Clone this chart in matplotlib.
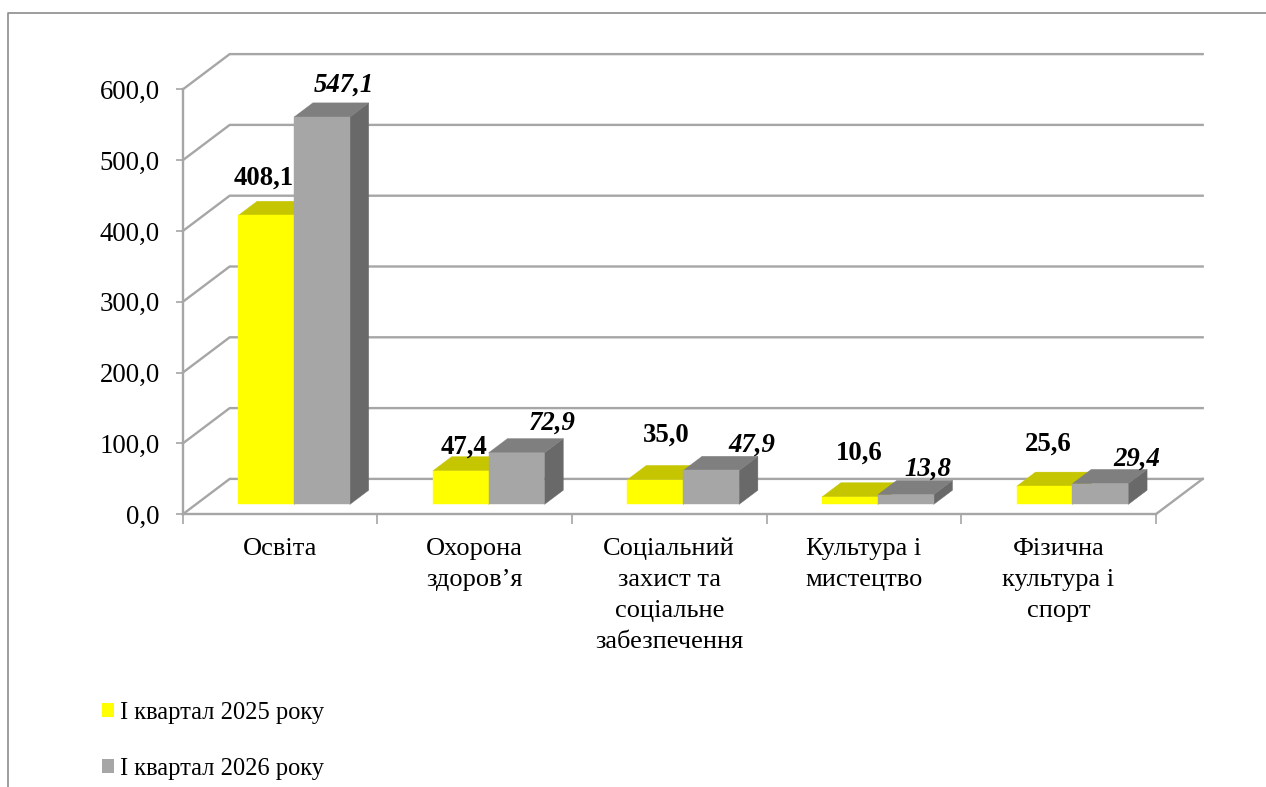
import matplotlib
matplotlib.use("Agg")
import matplotlib.pyplot as plt
from matplotlib.lines import Line2D
from matplotlib.patches import Patch, Polygon
from matplotlib.ticker import FuncFormatter

categories = ["Освіта", "Охорона\nздоров’я", "Соціальний\nзахист та\nсоціальне\nзабезпечення",
              "Культура і\nмистецтво", "Фізична\nкультура і\nспорт"]
series_names = ["І квартал 2025 року", "І квартал 2026 року"]
values_2025 = [408.1, 47.4, 35.0, 10.6, 25.6]
values_2026 = [547.1, 72.9, 47.9, 13.8, 29.4]
y_ticks = [0, 100, 200, 300, 400, 500, 600]

W, H = 1266, 787
plt.rcParams["font.family"] = ["Liberation Serif"]

fig = plt.figure(figsize=(W / 100, H / 100), dpi=100)
# the axes is the front plane of the old excel 3d box
ax = fig.add_axes([182.7 / W, 1 - 514.3 / H, 973 / W, 424.8 / H])
ax.set_xlim(0, 5)
ax.set_ylim(0, 600)
ax.patch.set_alpha(0)

# one unit of depth in data units
DX, DY = 0.2415, 50
grid = "#a6a6a6"
bar_w = 0.2867
bar_x0 = 0.2857
front, back = 0.28, 0.68


def shift(x, y, d):
    return x + DX * d, y + DY * d


for v in y_ticks:
    x1, y1 = shift(0, v, 1)
    x2, y2 = shift(5, v, 1)
    ax.plot([0, x1, x2], [v, y1, y2], color=grid, lw=1.7, clip_on=False, zorder=1)
x1, y1 = shift(5, 0, 1)
ax.plot([5, x1], [0, y1], color=grid, lw=1.7, clip_on=False, zorder=1)


def draw_bar(x, v, face, top, side):
    y0 = DY * front
    xf = x
    xb = x + DX * (back - front)
    yt = y0 + v
    yb = yt + DY * (back - front)
    y0b = y0 + DY * (back - front)
    ax.add_patch(Polygon([(xf + bar_w, y0), (xb + bar_w, y0b), (xb + bar_w, yb), (xf + bar_w, yt)],
                         fc=side, ec=side, lw=0.3, clip_on=False, zorder=3))
    ax.add_patch(Polygon([(xf, yt), (xb, yb), (xb + bar_w, yb), (xf + bar_w, yt)],
                         fc=top, ec=top, lw=0.3, clip_on=False, zorder=3))
    ax.add_patch(Polygon([(xf, y0), (xf + bar_w, y0), (xf + bar_w, yt), (xf, yt)],
                         fc=face, ec=face, lw=0.3, clip_on=False, zorder=3))


for i in range(len(categories)):
    draw_bar(i + bar_x0, values_2025[i], "#ffff00", "#c6c600", "#a0a000")
    draw_bar(i + bar_x0 + bar_w, values_2026[i], "#a6a6a6", "#7f7f7f", "#696969")

# labels were dragged by hand in the original, so each has its own nudge in pixels
nudge_2025 = [(-3, 37), (3, 24), (11, 44), (9, 44), (4, 42)]
nudge_2026 = [(22, 32), (36, 30), (41, 25), (22, 25), (36, 24)]
for i in range(len(categories)):
    ax.annotate(f"{values_2025[i]:.1f}".replace(".", ","),
                (i + bar_x0 + bar_w / 2, values_2025[i] + DY * front), xytext=nudge_2025[i],
                textcoords="offset pixels", ha="center", va="center", fontsize=19.3,
                fontweight="bold", annotation_clip=False, zorder=5)
    ax.annotate(f"{values_2026[i]:.1f}".replace(".", ","),
                (i + bar_x0 + bar_w * 1.5, values_2026[i] + DY * front), xytext=nudge_2026[i],
                textcoords="offset pixels", ha="center", va="center", fontsize=19.3,
                fontweight="bold", fontstyle="italic", annotation_clip=False, zorder=5)

for s in ["top", "right"]:
    ax.spines[s].set_visible(False)
for s in ["left", "bottom"]:
    ax.spines[s].set_color(grid)
    ax.spines[s].set_linewidth(1.7)

ax.set_yticks(y_ticks)
ax.yaxis.set_major_formatter(FuncFormatter(lambda v, p: f"{v:.1f}".replace(".", ",")))
ax.tick_params(axis="y", color=grid, width=1.2, length=5, labelsize=19.3, pad=11.5)
ax.set_xticks(range(6))
ax.set_xticklabels([])
ax.tick_params(axis="x", which="major", color=grid, width=1.2, length=7)
ax.set_xticks([i + 0.5 for i in range(5)], minor=True)
ax.set_xticklabels(categories, minor=True, fontsize=19, linespacing=1.52)
ax.tick_params(axis="x", which="minor", length=0, pad=17)

# outer chart frame, cut by the image on the right and bottom
fig.add_artist(Line2D([8.3 / W, 8.3 / W, 1], [0, 1 - 12.7 / H, 1 - 12.7 / H], color="#8c8c8c", lw=1.2))

handles = [Patch(fc="#ffff00"), Patch(fc="#a6a6a6")]
fig.legend(handles, series_names, loc="lower left", bbox_to_anchor=(80 / W, -15 / H), frameon=False,
           fontsize=17.65, handlelength=0.5, handleheight=0.5, handletextpad=0.22, labelspacing=1.4,
           borderpad=0.4)

fig.savefig("out.png", dpi=100)
